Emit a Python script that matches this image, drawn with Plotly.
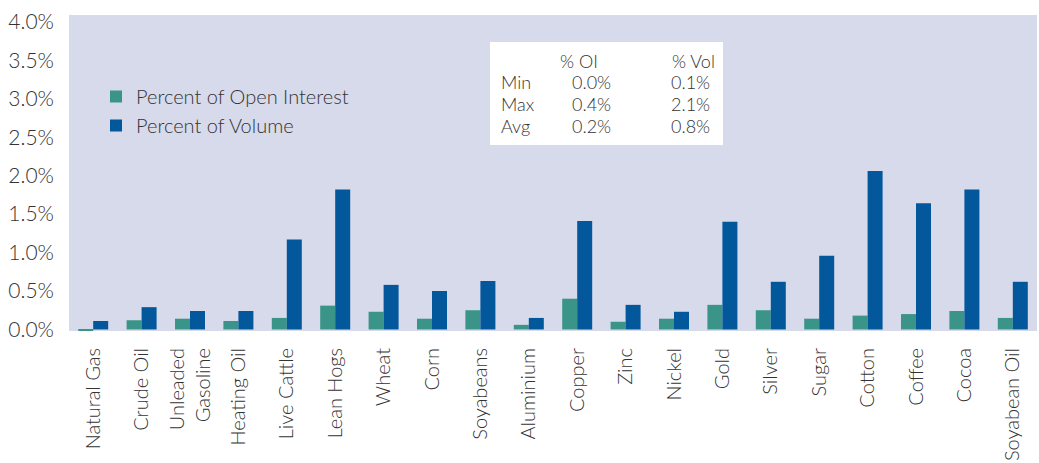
import plotly.graph_objects as go

# commodity futures: share of open interest and of volume (%)
commodities = [
    "Natural Gas", "Crude Oil", "Unleaded<br>Gasoline", "Heating Oil", "Live Cattle",
    "Lean Hogs", "Wheat", "Corn", "Soyabeans", "Aluminium", "Copper", "Zinc",
    "Nickel", "Gold", "Silver", "Sugar", "Cotton", "Coffee", "Cocoa", "Soyabean Oil",
]
pct_open_interest = [
    -0.02, 0.12, 0.14, 0.11, 0.15, 0.31, 0.23, 0.14, 0.25, 0.06,
    0.40, 0.10, 0.14, 0.32, 0.25, 0.14, 0.18, 0.20, 0.24, 0.15,
]
pct_volume = [
    0.11, 0.29, 0.24, 0.24, 1.17, 1.82, 0.58, 0.50, 0.63, 0.15,
    1.41, 0.32, 0.23, 1.40, 0.62, 0.96, 2.06, 1.64, 1.82, 0.62,
]

# summary box
stat_names = ["Min", "Max", "Avg"]
stat_oi = ["0.0%", "0.4%", "0.2%"]
stat_vol = ["0.1%", "2.1%", "0.8%"]
stat_headers = ["% OI", "% Vol"]

y_ticks = [0, 0.5, 1.0, 1.5, 2.0, 2.5, 3.0, 3.5, 4.0]
y_tick_text = ["0.0%", "0.5%", "1.0%", "1.5%", "2.0%", "2.5%", "3.0%", "3.5%", "4.0%"]

TEAL = "#3a9488"
BLUE = "#03579b"
BG = "#d7daeb"
TXT = "#333333"
FONT = "Lato"

W, H = 1039, 463
M_L, M_R, M_T, M_B = 69, 2, 15, 132


def px_x(x):
    return (x - M_L) / (W - M_L - M_R)


def px_y(y):
    return (H - M_B - y) / (H - M_T - M_B)


fig = go.Figure()
fig.add_trace(go.Bar(x=commodities, y=pct_open_interest, name="Percent of Open Interest",
                     marker=dict(color=TEAL, line=dict(width=0))))
fig.add_trace(go.Bar(x=commodities, y=pct_volume, name="Percent of Volume",
                     marker=dict(color=BLUE, line=dict(width=0))))

# white stats box
fig.add_shape(type="rect", xref="paper", yref="paper",
              x0=px_x(490), x1=px_x(723), y0=px_y(42), y1=px_y(145),
              fillcolor="white", line=dict(width=0), layer="above")

ann_font = dict(family=FONT, size=18, color=TXT, weight=300)


def cell(text, x, y, anchor):
    fig.add_annotation(text=text, x=px_x(x), y=px_y(y), xanchor=anchor, yanchor="middle",
                       xref="paper", yref="paper", showarrow=False, font=ann_font)


cell(stat_headers[0], 600, 61, "right")
cell(stat_headers[1], 717, 61, "right")
for name, oi, vol, yy in zip(stat_names, stat_oi, stat_vol, [82, 104, 126]):
    cell(name, 499, yy, "left")
    cell(oi, 613, yy, "right")
    cell(vol, 712, yy, "right")

fig.update_layout(
    width=W, height=H,
    margin=dict(l=M_L, r=M_R, t=M_T, b=M_B, pad=0),
    paper_bgcolor="white", plot_bgcolor=BG,
    barmode="group", bargap=0.38, bargroupgap=0,
    font=dict(family=FONT, size=21, color=TXT, weight=300),
    showlegend=True,
    legend=dict(x=px_x(96), y=px_y(77), xanchor="left", yanchor="top",
                bgcolor="rgba(0,0,0,0)", font=dict(size=20, family=FONT, color=TXT, weight=300),
                itemwidth=30, tracegroupgap=0),
    xaxis=dict(tickangle=-90, showgrid=False, zeroline=False, showline=False,
               ticks="", ticklabelstandoff=12, tickfont=dict(size=20), automargin=False),
    yaxis=dict(range=[-0.02, 4.09], tickvals=y_ticks, ticktext=y_tick_text,
               showgrid=False, zeroline=False, showline=False, ticks="",
               ticklabelstandoff=14, tickfont=dict(size=21), automargin=False),
)

fig.write_html("out.html", config={"displayModeBar": False},
               post_script="document.body.style.margin='0';")
